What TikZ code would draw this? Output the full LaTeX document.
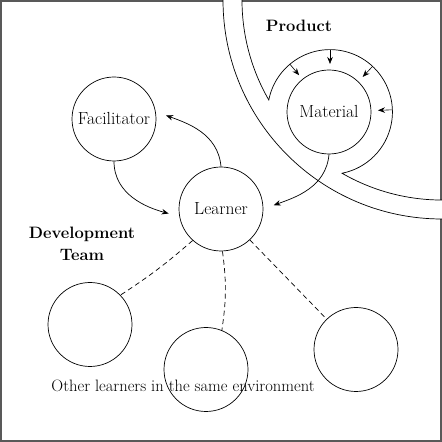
\documentclass[tikz,border=0pt]{standalone}
\usepackage{tikz}
\usetikzlibrary{calc, arrows.meta}

\begin{document}
\begin{tikzpicture}[>={Stealth[length=7pt, width=5.5pt]}, x=1pt, y=1pt,
    vong/.style={circle, draw, line width=0.7pt, minimum size=84pt, inner sep=0pt,
        font=\fontsize{17.5}{20}\selectfont},
    nhan/.style={font=\fontsize{16.5}{22}\selectfont\bfseries, align=center},
    khung/.style={draw=black!65, line width=1.6pt},
    muiten/.style={->, line width=0.7pt, shorten >=11pt},
    netdut/.style={line width=0.7pt, dash pattern=on 5pt off 3.5pt}]
    \useasboundingbox (0,0) rectangle (442,442);

    % Khung ngoài (hở ở chỗ dải cung tròn)
    \draw[khung] (223,441) -- (1,441) -- (1,1) -- (441,1) -- (441,223);
    \draw[khung] (242,441) -- (441,441) -- (441,242);

    % Hai cung tròn quanh góc trên phải, cung trong cuộn quanh Material
    \coordinate (goc) at (442,442);
    \coordinate (tam) at (330,330);
    \draw[line width=0.7pt] (223,442) arc[start angle=180, end angle=270, radius=219];
    \draw[line width=0.7pt] (242,442) arc[start angle=180, end angle=210, radius=200]
        arc[start angle=168.9, end angle=-78.9, radius=62.4]
        arc[start angle=240, end angle=270, radius=200];

    % Các vòng tròn
    \node[vong] (fac) at (114,323) {Facilitator};
    \node[vong] (lrn) at (221,233) {Learner};
    \node[vong] (mat) at (329,330) {Material};
    \node[vong] (o1) at (90,117.5) {};
    \node[vong] (o2) at (206,72.5) {};
    \node[vong] (o3) at (356,92.5) {};

    % Nhãn
    \node[nhan] (sp) at (299,416) {Product};
    \node[nhan] (dev) at (82,198) {Development\\Team};
    \node[anchor=base, font=\fontsize{16.5}{19}\selectfont] (ghichu) at (183,50)
        {Other learners in the same environment};

    % Mũi tên nhỏ hướng vào Material
    \foreach \g in {130, 90, 47, 2}
        \draw[->, line width=0.6pt] ($(tam)+(\g:62.4)$) -- ($(tam)+(\g:48)$);

    % Mũi tên giữa các vòng
    \draw[muiten] (fac.south) to[out=-90, in=165] (lrn.190);
    \draw[muiten] (lrn.north) to[out=95, in=-20] (fac.10);
    \draw[muiten] (mat.south) to[out=-95, in=20] (lrn.east);

    % Đường nét đứt tới các người học khác
    \draw[netdut] (lrn.-132) to[bend left=4] (o1.44);
    \draw[netdut] (lrn.-88) to[bend left=8] (o2.68);
    \draw[netdut] (lrn.-47) -- (o3.134);
\end{tikzpicture}
\end{document}
